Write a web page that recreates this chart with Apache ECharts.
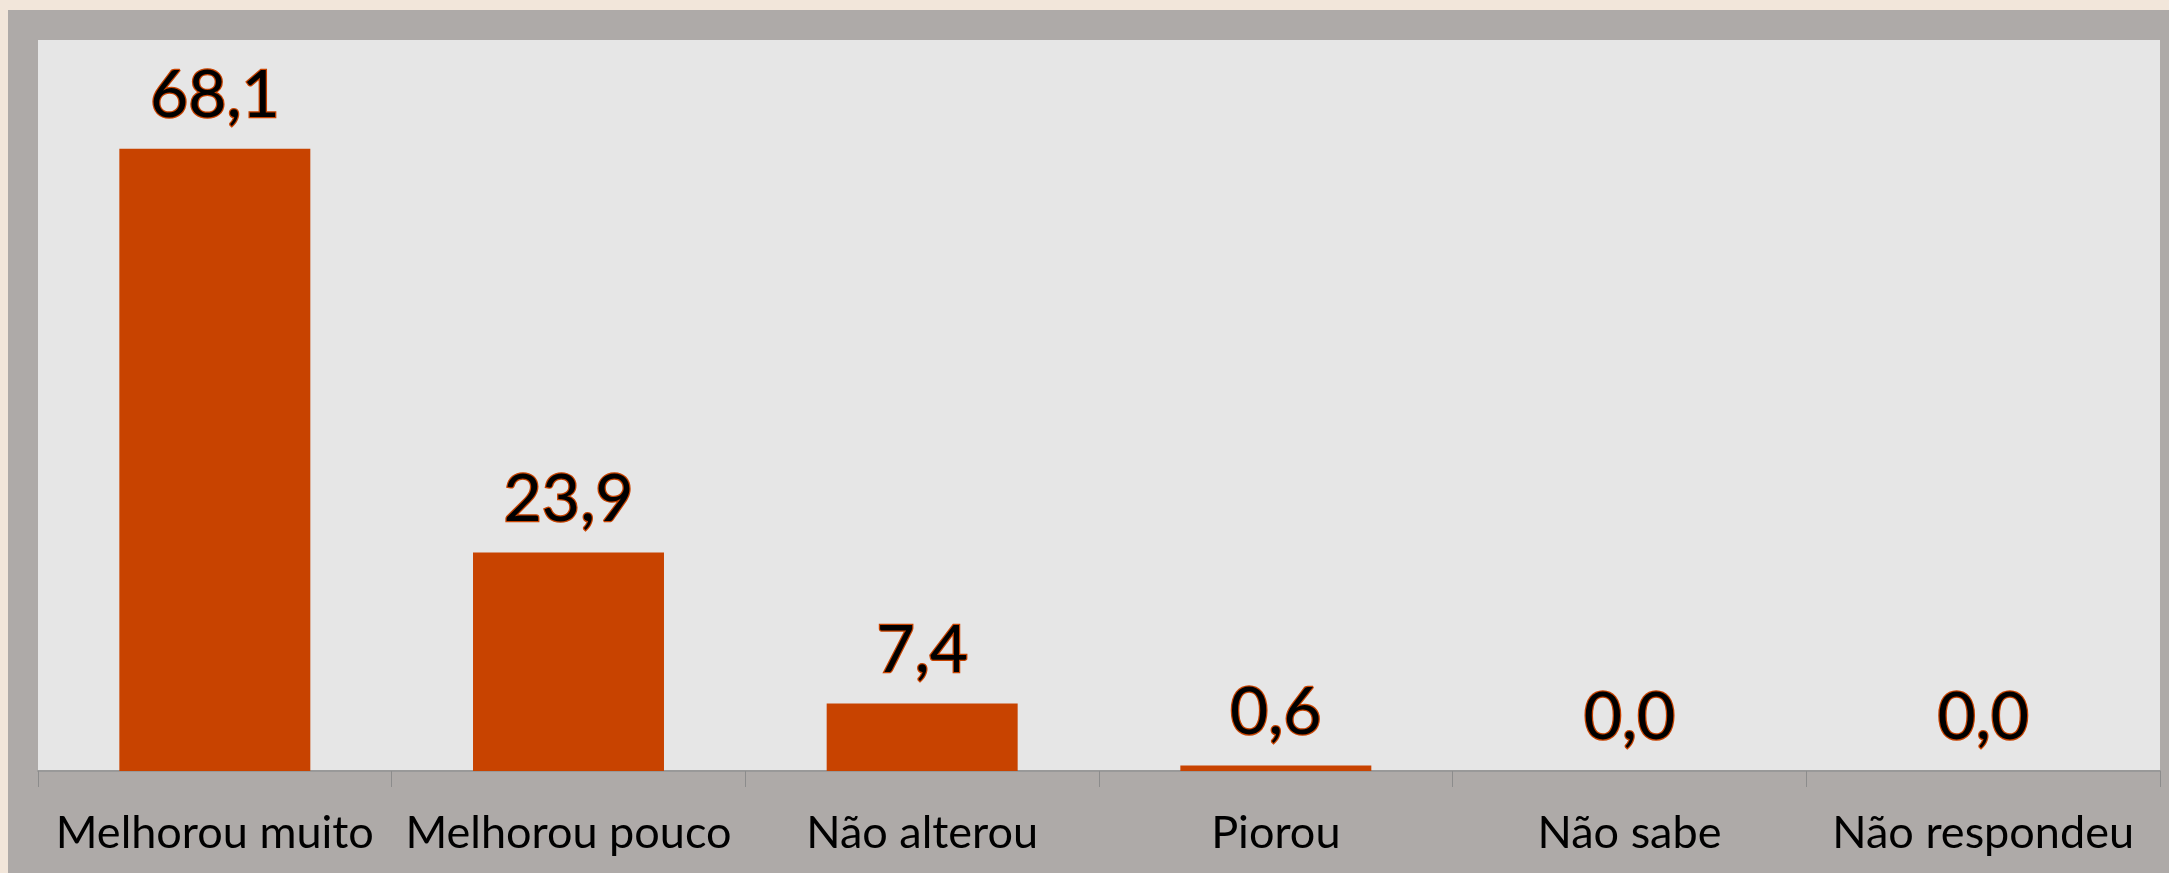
<!DOCTYPE html>
<html>
<head>
<meta charset="utf-8">
<script src="https://cdn.jsdelivr.net/npm/echarts@6/dist/echarts.min.js"></script>
<style>
  html, body { margin: 0; padding: 0; background: #f2e6da; }
  #chart {
    position: absolute;
    left: 8px;
    top: 10px;
    width: 2161px;
    height: 863px;
    background: #aeaaa8;
  }
</style>
</head>
<body>
<div id="chart"></div>
<script>
// categorias e valores (%)
const categorias = ["Melhorou muito", "Melhorou pouco", "Não alterou", "Piorou", "Não sabe", "Não respondeu"];
const valores = [68.1, 23.9, 7.4, 0.6, 0.0, 0.0];

const corBarra = "#c84300";

let myChart = echarts.init(document.getElementById("chart"));
myChart.setOption({
  animation: false,
  grid: {
    left: 30,
    right: 9,
    top: 30,
    bottom: 102,
    show: true,
    backgroundColor: "#e6e6e6",
    borderWidth: 0,
  },
  xAxis: {
    type: "category",
    data: categorias,
    axisLine: { show: true, lineStyle: { color: "#999999", width: 2 } },
    axisTick: { show: true, length: 16, lineStyle: { color: "#8c8c8c", width: 1 } },
    axisLabel: {
      color: "#000",
      fontFamily: "Lato",
      fontSize: 45,
      margin: 40,
      interval: 0,
    },
  },
  yAxis: {
    type: "value",
    min: 0,
    max: 80,
    show: false,
    splitLine: { show: false },
  },
  series: [
    {
      type: "bar",
      data: valores,
      barWidth: "54%",
      itemStyle: { color: corBarra },
      label: {
        show: true,
        position: "top",
        distance: 20,
        color: "#000",
        fontFamily: "Lato",
        fontSize: 66,
        textBorderColor: corBarra,
        textBorderWidth: 2.5,
        formatter: function (p) {
          return p.value.toFixed(1).replace(".", ",");
        },
      },
    },
  ],
});
</script>
</body>
</html>
